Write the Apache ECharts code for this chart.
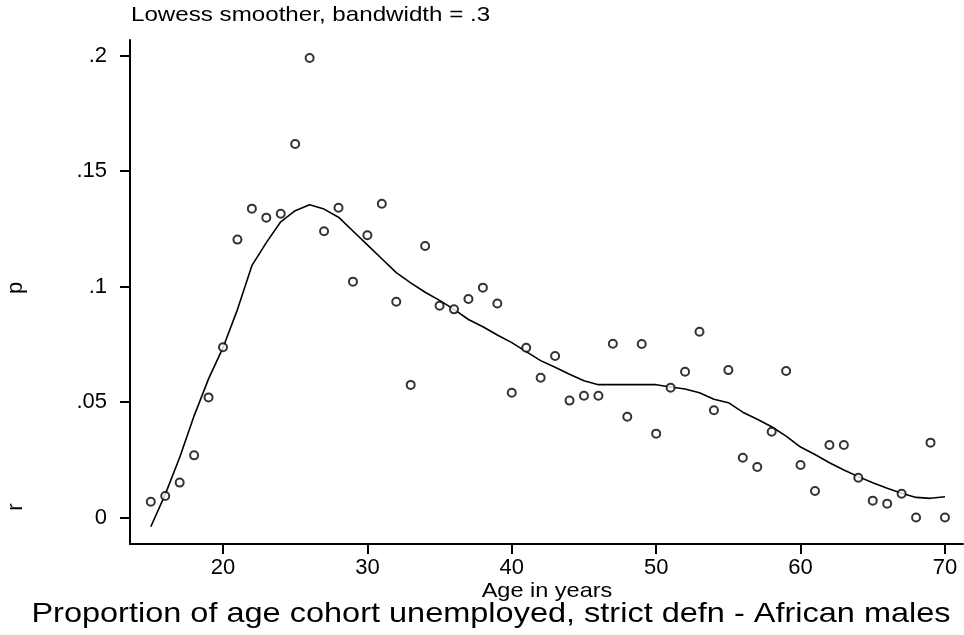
<!DOCTYPE html>
<html>
<head>
<meta charset="utf-8">
<script src="https://cdn.jsdelivr.net/npm/echarts@6/dist/echarts.min.js"></script>
<style>
  html, body { margin: 0; padding: 0; background: #fff; }
  #chart { width: 964px; height: 635px; }
</style>
</head>
<body>
<div id="chart"></div>
<script>
// Age cohorts (years)
var ages = [15,16,17,18,19,20,21,22,23,24,25,26,27,28,29,30,31,32,33,34,35,36,37,38,39,40,
            41,42,43,44,45,46,47,48,49,50,51,52,53,54,55,56,57,58,59,60,61,62,63,64,65,66,67,68,69,70];

// Observed proportion unemployed per cohort
var proportion = [0.0068,0.0093,0.0151,0.0269,0.0520,0.0737,0.1203,0.1337,0.1298,0.1315,0.1617,0.1989,
                  0.1239,0.1341,0.1021,0.1222,0.1358,0.0934,0.0574,0.1175,0.0917,0.0901,0.0946,0.0995,
                  0.0926,0.0540,0.0735,0.0605,0.0699,0.0506,0.0527,0.0527,0.0752,0.0436,0.0751,0.0363,
                  0.0562,0.0631,0.0804,0.0464,0.0638,0.0259,0.0219,0.0371,0.0634,0.0227,0.0115,0.0314,
                  0.0314,0.0172,0.0073,0.0060,0.0103,0.0000,0.0324,0.0000];

// Lowess fit evaluated at each cohort
var lowessFit = [-0.0040,0.0100,0.0260,0.0440,0.0600,0.0735,0.0900,0.1090,0.1190,0.1280,0.1328,0.1354,
                 0.1335,0.1300,0.1240,0.1180,0.1120,0.1060,0.1016,0.0975,0.0940,0.0901,0.0857,0.0826,
                 0.0790,0.0757,0.0718,0.0679,0.0650,0.0620,0.0592,0.0575,0.0575,0.0575,0.0575,0.0575,
                 0.0565,0.0556,0.0540,0.0512,0.0497,0.0456,0.0425,0.0393,0.0352,0.0305,0.0273,0.0237,
                 0.0206,0.0177,0.0150,0.0127,0.0105,0.0087,0.0083,0.0090];

var xTicks = [20, 30, 40, 50, 60, 70];
var yTicks = [0, 0.05, 0.1, 0.15, 0.2];
var yTickLabels = ['0', '.05', '.1', '.15', '.2'];

var FONT = "'Liberation Sans', Arial, sans-serif";

var scatterData = ages.map(function (a, i) { return [a, proportion[i]]; });
var lineData = ages.map(function (a, i) { return [a, lowessFit[i]]; });

var chart = echarts.init(document.getElementById('chart'), null, { renderer: 'canvas' });

chart.setOption({
  backgroundColor: '#fff',
  animation: false,
  grid: { left: 130, top: 40, width: 833, height: 504, containLabel: false },
  xAxis: {
    type: 'value',
    min: 13.56,
    max: 71.25,
    axisLine: { show: true, onZero: false, lineStyle: { color: '#000', width: 2 } },
    axisTick: { show: true, customValues: xTicks, length: 10, lineStyle: { color: '#000', width: 2 } },
    axisLabel: {
      customValues: xTicks,
      margin: 13,
      color: '#000',
      fontFamily: FONT,
      fontSize: 22
    },
    splitLine: { show: false }
  },
  yAxis: {
    type: 'value',
    min: -0.01147,
    max: 0.2067,
    axisLine: { show: true, onZero: false, lineStyle: { color: '#000', width: 2 } },
    axisTick: { show: true, customValues: yTicks, length: 10, lineStyle: { color: '#000', width: 2 } },
    axisLabel: {
      customValues: yTicks,
      margin: 23,
      color: '#000',
      fontFamily: FONT,
      fontSize: 22,
      formatter: function (v) {
        var idx = yTicks.findIndex(function (t) { return Math.abs(t - v) < 1e-9; });
        return idx >= 0 ? yTickLabels[idx] : '';
      }
    },
    splitLine: { show: false }
  },
  series: [
    {
      type: 'line',
      data: lineData,
      showSymbol: false,
      smooth: false,
      lineStyle: { color: '#000', width: 1.6 },
      z: 2
    },
    {
      type: 'scatter',
      data: scatterData,
      symbol: 'emptyCircle',
      symbolSize: 8,
      itemStyle: { color: '#000', borderColor: '#000', borderWidth: 1.6 },
      z: 3
    }
  ],
  graphic: [
    {
      type: 'text', x: 131, y: 15, scaleX: 1.15,
      style: { text: 'Lowess smoother, bandwidth = .3', fill: '#000', font: '21px ' + FONT, align: 'left', verticalAlign: 'middle' }
    },
    {
      type: 'text', x: 16, y: 288, rotation: Math.PI / 2,
      style: { text: 'p', fill: '#000', font: '22px ' + FONT, align: 'center', verticalAlign: 'middle' }
    },
    {
      type: 'text', x: 16, y: 507, rotation: Math.PI / 2,
      style: { text: 'r', fill: '#000', font: '22px ' + FONT, align: 'center', verticalAlign: 'middle' }
    },
    {
      type: 'text', x: 547, y: 591, scaleX: 1.12,
      style: { text: 'Age in years', fill: '#000', font: '21px ' + FONT, align: 'center', verticalAlign: 'middle' }
    },
    {
      type: 'text', x: 491, y: 614, scaleX: 1.14,
      style: { text: 'Proportion of age cohort unemployed, strict defn - African males', fill: '#000', font: '28.5px ' + FONT, align: 'center', verticalAlign: 'middle' }
    }
  ]
});
</script>
</body>
</html>
